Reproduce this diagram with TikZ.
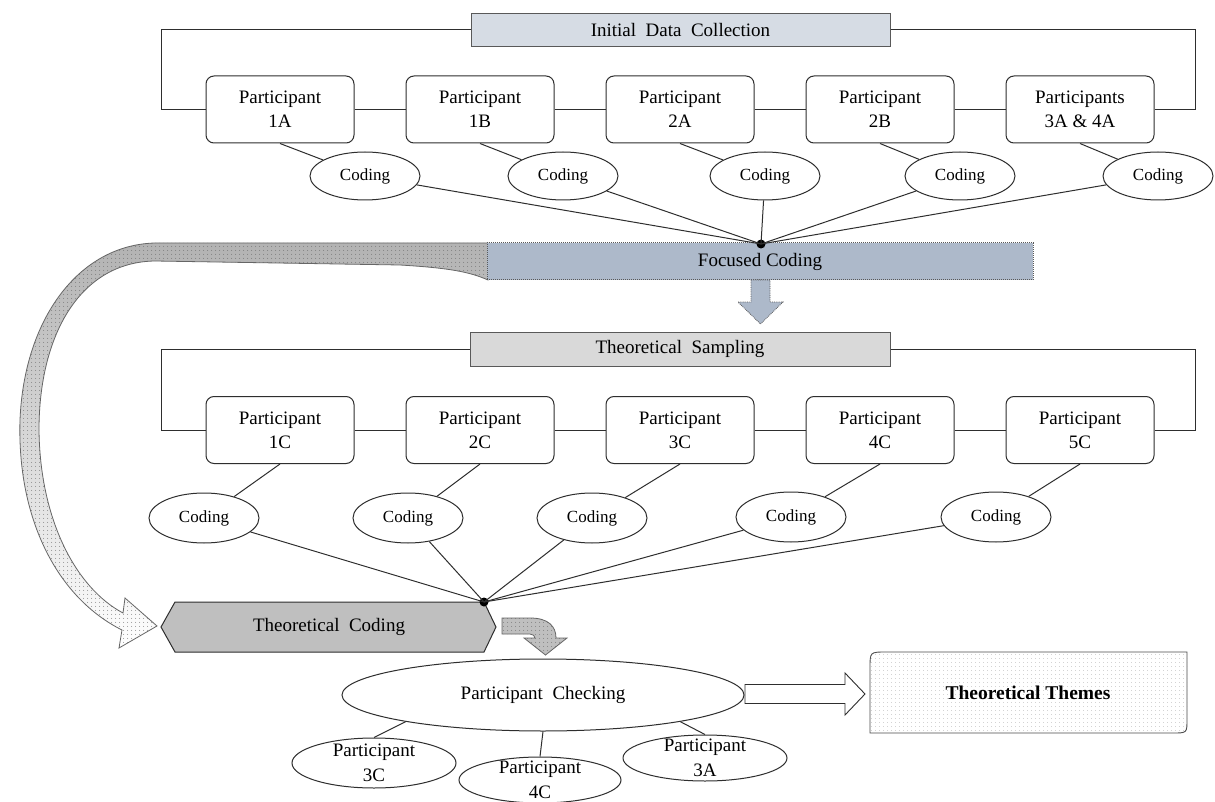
\documentclass[tikz,border=0pt]{standalone}
\usepackage{fontspec}
\setmainfont{Liberation Serif}
\usetikzlibrary{shapes.geometric,patterns.meta}
\newcommand\fsz[2]{\fontsize{#1}{#2}\selectfont}
\definecolor{idcfill}{HTML}{D6DCE4}
\definecolor{fcfill}{HTML}{ADB9CA}
\definecolor{tsfill}{HTML}{D9D9D9}
\definecolor{tcfill}{HTML}{BFBFBF}
\definecolor{ln}{HTML}{2E2E2E}
\begin{document}
\begin{tikzpicture}[x=1pt,y=-1pt,line width=1pt,
  pbox/.style={draw=ln,rounded corners=8,fill=white,minimum width=148,minimum height=67,align=center,font=\fsz{19}{24},inner sep=0},
  codell/.style={draw=ln,ellipse,fill=white,minimum width=110,minimum height=48,inner sep=0,font=\fsz{17}{20}},
  smell/.style={draw=ln,ellipse,fill=white,minimum width=164,minimum height=48,inner sep=0},
  smtext/.style={align=center,font=\fsz{19}{25},inner sep=0},
  hubdot/.style={circle,fill=black,inner sep=0,minimum size=9},
  headbox/.style={draw=black!65,minimum height=33,font=\fsz{19}{24},inner sep=0},
  conn/.style={draw=ln,line width=1pt},
  dotfill/.style={pattern={Dots[distance=4pt,radius=0.55pt]},pattern color=black!60}]
\path[fill=white] (0,0) rectangle (1215,802);
\useasboundingbox (0,0) rectangle (1215,802);

% curved tapered arrow
\draw[draw=black!60,line width=0.8pt,preaction={top color=black!30,bottom color=white},dotfill]
  (488,243) -- (155,243) .. controls (78,245) and (24,320) .. (20,420)
  .. controls (17,520) and (58,598) .. (122,630)
  -- (119,648) -- (157,626) -- (125,598) -- (123,613)
  .. controls (76,588) and (40,520) .. (39,430)
  .. controls (39,335) and (80,262) .. (155,261)
  -- (400,265) .. controls (450,268) and (470,272) .. (488,280) -- cycle;

% top section
\node[headbox,fill=idcfill,minimum width=419] (idc) at (680.5,30) {Initial~ Data~ Collection};
\node[pbox] (p1a) at (280,109.5) {Participant\\1A};
\node[pbox] (p1b) at (480,109.5) {Participant\\1B};
\node[pbox] (p2a) at (680,109.5) {Participant\\2A};
\node[pbox] (p2b) at (880,109.5) {Participant\\2B};
\node[pbox] (p34a) at (1080,109.5) {Participants\\3A \& 4A};
\draw[conn] (idc.west) -| ([xshift=-44]p1a.west) -- (p1a.west);
\draw[conn] (idc.east) -| ([xshift=41]p34a.east) -- (p34a.east);
\draw[conn] (p1a.east) -- (p1b.west);
\draw[conn] (p1b.east) -- (p2a.west);
\draw[conn] (p2a.east) -- (p2b.west);
\draw[conn] (p2b.east) -- (p34a.west);

\node[codell] (c1) at (365,176) {Coding};
\node[codell] (c2) at (563,176) {Coding};
\node[codell] (c3) at (765,176) {Coding};
\node[codell] (c4) at (960,176) {Coding};
\node[codell] (c5) at (1158,176) {Coding};
\draw[conn] (p1a.south) -- (c1);
\draw[conn] (p1b.south) -- (c2);
\draw[conn] (p2a.south) -- (c3);
\draw[conn] (p2b.south) -- (c4);
\draw[conn] (p34a.south) -- (c5);

\node[draw=black!65,densely dotted,fill=fcfill,minimum width=546,minimum height=37,font=\fsz{19}{24},inner sep=0] (fc) at (760,261.5) {Focused Coding};
\node[hubdot] (hub1) at (761,244) {};
\foreach \c in {c1,c2,c3,c4,c5} \draw[conn] (\c) -- (hub1.center);

\draw[draw=black!65,densely dotted,fill=fcfill,line width=0.8pt]
  (751,280) -- (770,280) -- (770,302) -- (783,302) -- (760.5,324) -- (738,302) -- (751,302) -- cycle;

% middle section
\node[headbox,fill=tsfill,minimum width=420,minimum height=34] (ts) at (680,349) {Theoretical~ Sampling};
\node[pbox] (p1c) at (280,430) {Participant\\1C};
\node[pbox] (p2c) at (480,430) {Participant\\2C};
\node[pbox] (p3c) at (680,430) {Participant\\3C};
\node[pbox] (p4c) at (880,430) {Participant\\4C};
\node[pbox] (p5c) at (1080,430) {Participant\\5C};
\draw[conn] (ts.west) -| ([xshift=-44]p1c.west) -- (p1c.west);
\draw[conn] (ts.east) -| ([xshift=41]p5c.east) -- (p5c.east);
\draw[conn] (p1c.east) -- (p2c.west);
\draw[conn] (p2c.east) -- (p3c.west);
\draw[conn] (p3c.east) -- (p4c.west);
\draw[conn] (p4c.east) -- (p5c.west);

\node[codell,minimum height=50] (d1) at (204,518) {Coding};
\node[codell,minimum height=50] (d2) at (408,518) {Coding};
\node[codell,minimum height=50] (d3) at (592,518) {Coding};
\node[codell,minimum height=50] (d4) at (791,517) {Coding};
\node[codell,minimum height=50] (d5) at (996,517) {Coding};
\draw[conn] (p1c.south) -- (d1);
\draw[conn] (p2c.south) -- (d2);
\draw[conn] (p3c.south) -- (d3);
\draw[conn] (p4c.south) -- (d4);
\draw[conn] (p5c.south) -- (d5);

% theoretical coding hexagon
\draw[draw=ln,fill=tcfill] (161,627) -- (175,602) -- (484,602) -- (496,627) -- (484,652) -- (175,652) -- cycle;
\node[font=\fsz{19}{24}] (tc) at (329,627) {Theoretical~ Coding};
\node[hubdot] (hub2) at (484,602) {};
\foreach \d in {d1,d2,d3,d4,d5} \draw[conn] (\d) -- (hub2.center);

% bent arrow
\draw[draw=black!60,line width=0.8pt,preaction={fill=tcfill},dotfill]
  (502,618) -- (530,618) .. controls (548,618) and (556,626) .. (556,638)
  -- (567,638) -- (545.5,655) -- (524,638) -- (535,638)
  .. controls (535,636) and (533,634) .. (530,634) -- (502,634) -- cycle;

% bottom section
\node[draw=ln,ellipse,fill=white,minimum width=402,minimum height=72,inner sep=0,font=\fsz{19}{24}] (pc) at (543,695) {Participant~ Checking};
\node[smell,minimum height=50] (s3c) at (374,763) {};
\node[smtext] at (s3c) {Participant\\3C};
\node[smell,minimum height=46,minimum width=162] (s4c) at (540,780) {};
\node[smtext] at (s4c) {Participant\\4C};
\node[smell,minimum height=46] (s3a) at (705,758) {};
\node[smtext] at (s3a) {Participant\\3A};
\draw[conn] (pc.191) -- (s3c.north);
\draw[conn] (pc.south) -- (s4c.north);
\draw[conn] (pc.-11) -- (s3a.north);

\draw[draw=ln,fill=white,line width=0.9pt]
  (745,684.5) -- (845,684.5) -- (845,673) -- (865,694) -- (845,715) -- (845,703.5) -- (745,703.5) -- cycle;

\draw[draw=black!70,line width=0.9pt,preaction={fill=white},pattern={Dots[distance=4pt,radius=0.45pt]},pattern color=black!35]
  (870,668) .. controls (870,652) .. (886,652) -- (1187,652) -- (1187,719)
  .. controls (1187,733) .. (1173,733) -- (870,733) -- cycle;
\node[font=\fsz{19.5}{24}\bfseries] (tt) at (1028,693) {Theoretical Themes};
\end{tikzpicture}
\end{document}
